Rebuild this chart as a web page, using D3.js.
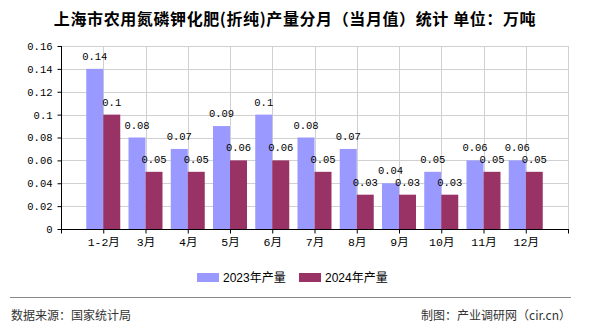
<!DOCTYPE html>
<html><head><meta charset="utf-8">
<script src="https://cdn.jsdelivr.net/npm/d3@7"></script>
<style>
html,body{margin:0;padding:0;background:#fff;}
svg{display:block;}
</style>
</head><body>
<svg id="chart" width="590" height="330"></svg>
<script>
const categories = ["1-2月","3月","4月","5月","6月","7月","8月","9月","10月","11月","12月"];
const values2023 = [0.14,0.08,0.07,0.09,0.1,0.08,0.07,0.04,0.05,0.06,0.06];
const values2024 = [0.1,0.05,0.05,0.06,0.06,0.05,0.03,0.03,0.03,0.05,0.05];
const seriesNames = ["2023年产量","2024年产量"];
const yTicks = [0,0.02,0.04,0.06,0.08,0.1,0.12,0.14,0.16];
const title = "上海市农用氮磷钾化肥(折纯)产量分月（当月值）统计 单位：万吨";
const source = "数据来源：国家统计局";
const credit = "制图：产业调研网（cir.cn）";

(function(){
const colors = ["#9999ff","#993366"];
const svg = d3.select("#chart");
const pL = 61, pR = 568, pT = 46, pB = 229;
const x = d3.scaleLinear().domain([0, categories.length + 1]).range([pL, pR]);
const y = d3.scaleLinear().domain([0, 0.16]).range([pB, pT]);
const barW = 17;
const mono = "'Liberation Mono','DejaVu Sans Mono',monospace";

svg.append("text").attr("x", 295).attr("y", 25).attr("text-anchor","middle")
  .attr("font-family","'Noto Sans CJK SC',sans-serif").attr("font-weight","bold")
  .attr("letter-spacing", 0.6)
  .attr("font-size",16).attr("fill","#000").text(title);

const g = svg.append("g");
g.selectAll("line.h").data(yTicks.slice(1)).join("line")
  .attr("x1", pL).attr("x2", pR).attr("y1", d=>Math.round(y(d))+0.5).attr("y2", d=>Math.round(y(d))+0.5)
  .attr("stroke","#d0d0d0").attr("stroke-width",1);
const vIdx = d3.range(1, categories.length + 2);
g.selectAll("line.v").data(vIdx).join("line")
  .attr("x1", d=>Math.round(x(d))+0.5).attr("x2", d=>Math.round(x(d))+0.5)
  .attr("y1", pT).attr("y2", pB)
  .attr("stroke","#d0d0d0").attr("stroke-width",1);

const series = [values2023, values2024];
series.forEach((vals, s) => {
  svg.append("g").selectAll("rect").data(vals).join("rect")
    .attr("x", (d,i)=> x(i+1) + (s===0 ? -barW : 0))
    .attr("width", barW)
    .attr("y", d=>y(d))
    .attr("height", d=>y(0)-y(d))
    .attr("fill", colors[s]);
  svg.append("g").selectAll("text").data(vals).join("text")
    .attr("x", (d,i)=> x(i+1) + (s===0 ? -barW/2 : barW/2))
    .attr("y", d=>y(d)-9)
    .attr("text-anchor","middle")
    .attr("font-family", mono).attr("font-size",10.5).attr("fill","#000")
    .text(d=>String(d));
});

const yAxis = d3.axisLeft(y).tickValues(yTicks).tickSize(4).tickFormat(d=>String(d));
const ya = svg.append("g").attr("transform",`translate(${pL+0.5},0)`).call(yAxis);
ya.select(".domain").attr("stroke","#000").attr("d", `M0,${pT}V${pB+0.5}`);
ya.selectAll(".tick line").attr("stroke","#000");
ya.selectAll(".tick text").attr("font-family", mono).attr("font-size",10.5).attr("fill","#000").attr("x",-9);

const xAxis = d3.axisBottom(x).tickValues(d3.range(0, categories.length + 2)).tickSize(4)
  .tickFormat(i => (i>=1 && i<=categories.length) ? categories[i-1] : "");
const xa = svg.append("g").attr("transform",`translate(0,${pB+0.5})`).call(xAxis);
xa.select(".domain").attr("stroke","#000").attr("d", `M${pL},0H${pR+1}`);
xa.selectAll(".tick line").attr("stroke","#000");
xa.selectAll(".tick text").attr("font-family", "'Liberation Mono','Noto Sans CJK SC',monospace")
  .attr("font-size",11.5).attr("fill","#000").attr("y",8);

const lg = svg.append("g");
const legX = [197, 299];
seriesNames.forEach((n, s) => {
  lg.append("rect").attr("x", legX[s]).attr("y", 273).attr("width", 22).attr("height", 9).attr("fill", colors[s]);
  lg.append("text").attr("x", legX[s]+26).attr("y", 282).attr("font-family","'Liberation Sans','Noto Sans CJK SC',sans-serif")
    .attr("font-size",12).attr("fill","#000").text(n);
});

svg.append("line").attr("x1",10).attr("x2",571).attr("y1",297.5).attr("y2",297.5).attr("stroke","#888").attr("stroke-width",1);
svg.append("text").attr("x",11).attr("y",320).attr("font-family","'Noto Sans CJK SC',sans-serif").attr("font-size",12).attr("fill","#333").text(source);
svg.append("text").attr("x",571).attr("y",320).attr("text-anchor","end").attr("font-family","'Noto Sans CJK SC',sans-serif").attr("font-size",12).attr("fill","#333").text(credit);
})();
</script>
</body></html>
